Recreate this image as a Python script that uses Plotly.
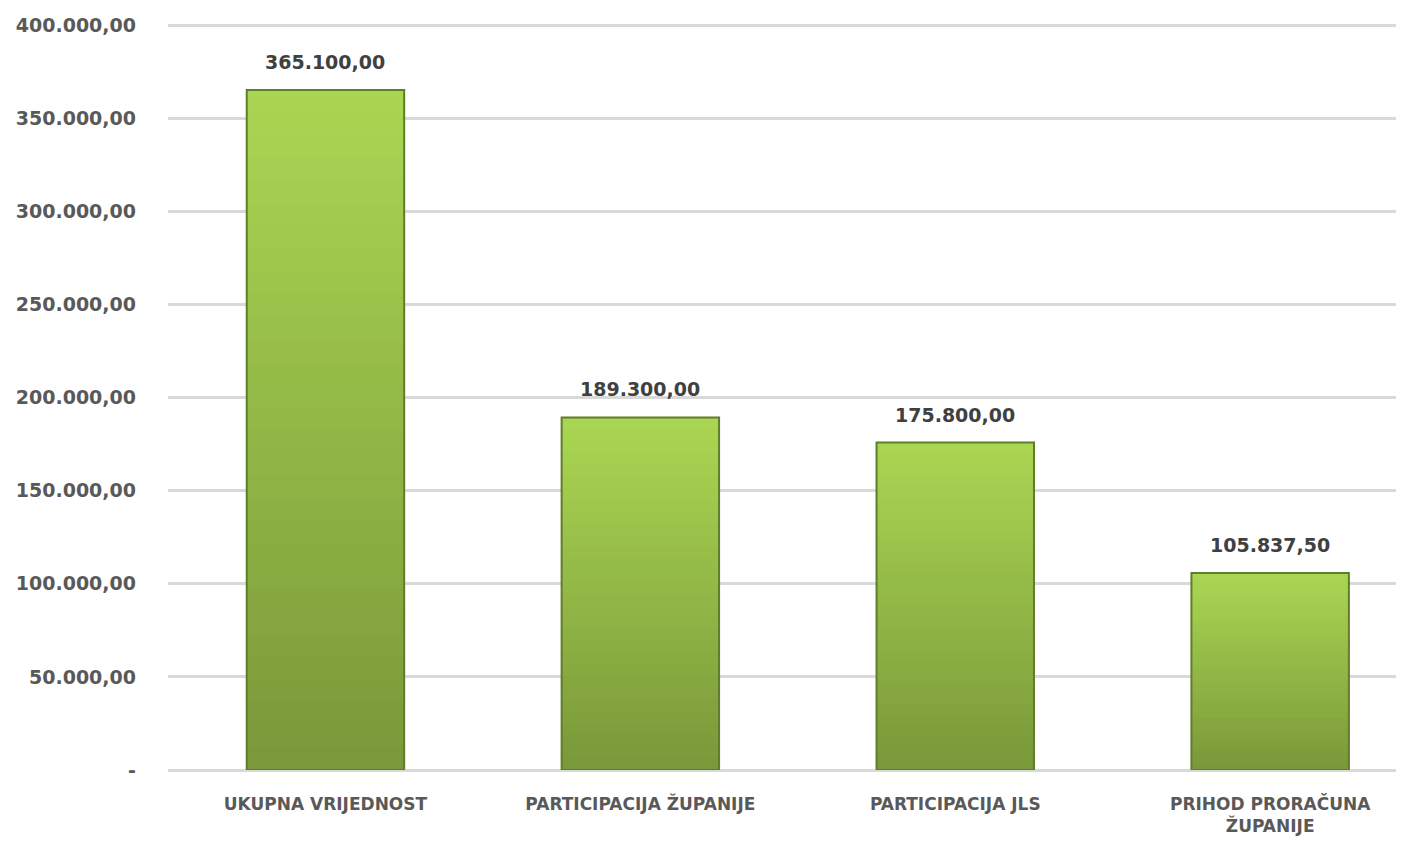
import plotly.graph_objects as go

# Data
categories = ["UKUPNA VRIJEDNOST", "PARTICIPACIJA ŽUPANIJE", "PARTICIPACIJA JLS",
              "PRIHOD PRORAČUNA<br>ŽUPANIJE"]
values = [365100.00, 189300.00, 175800.00, 105837.50]
value_labels = ["365.100,00", "189.300,00", "175.800,00", "105.837,50"]
tick_values = [0, 50000, 100000, 150000, 200000, 250000, 300000, 350000, 400000]
tick_labels = ["-", "50.000,00", "100.000,00", "150.000,00", "200.000,00",
               "250.000,00", "300.000,00", "350.000,00", "400.000,00"]

fig = go.Figure()

# Vertical gradient: overlay ever shorter, darker bars over a full light bar
steps = 30
bottom = (122, 153, 58)
top = (170, 213, 82)
for i in range(steps):
    t = 1 - i / (steps - 1)
    col = "rgb({},{},{})".format(*[round(b + (a - b) * t) for a, b in zip(top, bottom)])
    fig.add_trace(go.Bar(
        x=categories, y=[v * (steps - i) / steps for v in values],
        marker=dict(color=col, line=dict(width=0)), width=0.5,
        hoverinfo="skip", showlegend=False))

# Outline on top
fig.add_trace(go.Bar(
    x=categories, y=values, width=0.5,
    marker=dict(color="rgba(0,0,0,0)", line=dict(color="#5f7d2a", width=2)),
    showlegend=False))

for c, v, lab in zip(categories, values, value_labels):
    fig.add_annotation(x=c, y=v, text=lab, showarrow=False, yanchor="bottom", yshift=15,
                       font=dict(family="DejaVu Sans", size=19, color="#404040", weight="bold"))

fig.update_layout(
    width=1396, height=834,
    margin=dict(l=160, r=0, t=16, b=72),
    barmode="overlay",
    plot_bgcolor="white", paper_bgcolor="white",
    font=dict(family="DejaVu Sans", color="#595959"),
)
fig.update_xaxes(
    range=[-0.5, 3.425], showgrid=False, ticks="", ticklabelstandoff=22,
    tickfont=dict(family="DejaVu Sans", size=17, color="#595959", weight="bold"),
    showline=False, zeroline=False,
)
fig.update_yaxes(
    range=[0, 400600], tickvals=tick_values, ticktext=tick_labels,
    showgrid=True, gridcolor="#d9d9d9", gridwidth=3, ticks="", ticklabelstandoff=31,
    zeroline=True, zerolinecolor="#d9d9d9", zerolinewidth=3,
    tickfont=dict(family="DejaVu Sans", size=19, color="#595959", weight="bold"),
)

fig.write_html("out.html")
